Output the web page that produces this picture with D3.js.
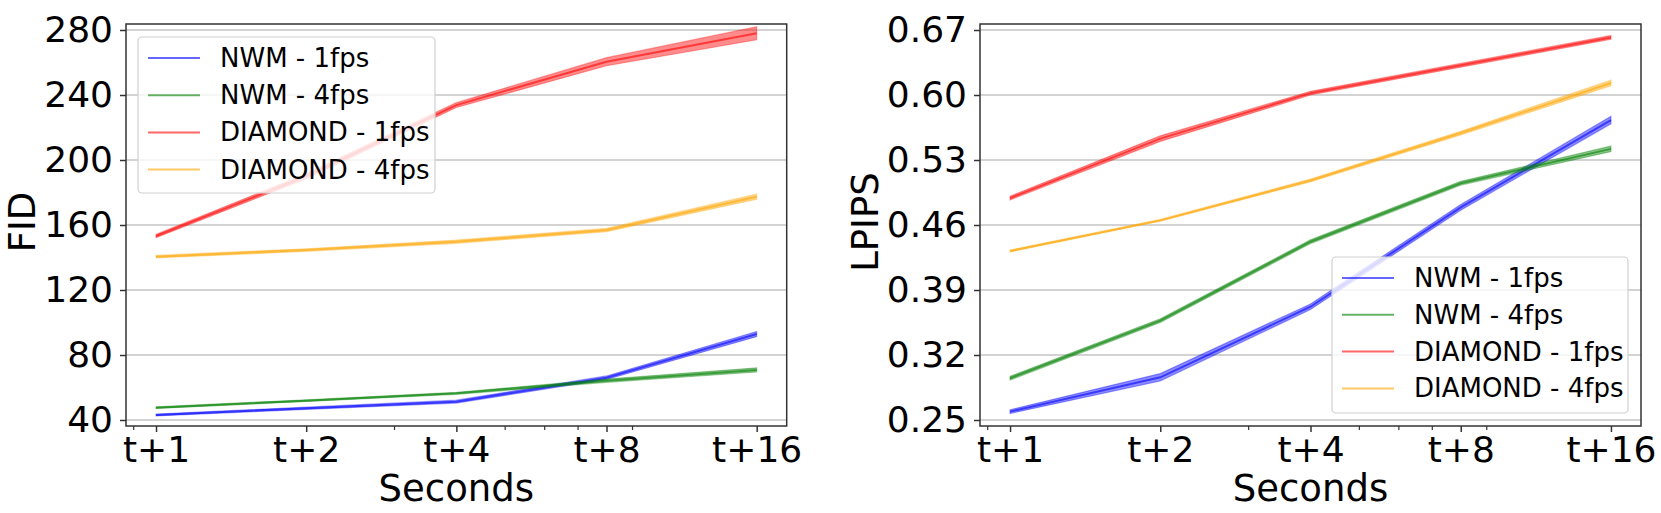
<!DOCTYPE html>
<html>
<head>
<meta charset="utf-8">
<script src="https://cdn.jsdelivr.net/npm/d3@7"></script>
<style>
  html, body { margin: 0; padding: 0; background: #fff; }
  svg { display: block; font-family: "DejaVu Sans", sans-serif; }
</style>
</head>
<body>
<svg id="chart" width="1661" height="513"></svg>
<script>
// ---------- data ----------
const stepLabels = ["t+1", "t+2", "t+4", "t+8", "t+16"];
const stepValues = [1, 2, 4, 8, 16];
const minorTicks = [0.9, 3, 5, 6, 7, 9];
const seriesNames = ["NWM - 1fps", "NWM - 4fps", "DIAMOND - 1fps", "DIAMOND - 4fps"];
const seriesColors = ["blue", "green", "red", "orange"];

// FID (mean and half-band)
const fidNwm1 = [43.1, 47.2, 51.3, 66.0, 92.9];
const fidNwm4 = [47.6, 51.9, 56.4, 64.2, 70.8];
const fidDia1 = [153.2, 190.0, 233.8, 260.5, 278.0];
const fidDia4 = [140.5, 144.6, 149.7, 156.9, 177.4];
const fidNwm1Err = [0.6, 0.7, 0.9, 1.1, 1.6];
const fidNwm4Err = [0.5, 0.5, 0.6, 1.0, 1.3];
const fidDia1Err = [1.0, 1.5, 1.5, 2.5, 4.0];
const fidDia4Err = [0.8, 0.8, 1.0, 1.0, 1.6];
const fidTicks = [40, 80, 120, 160, 200, 240, 280];

// LPIPS
const lpNwm1 = [0.259, 0.296, 0.372, 0.479, 0.573];
const lpNwm4 = [0.295, 0.357, 0.442, 0.505, 0.542];
const lpDia1 = [0.489, 0.553, 0.602, 0.632, 0.662];
const lpDia4 = [0.432, 0.465, 0.508, 0.559, 0.613];
const lpNwm1Err = [0.002, 0.004, 0.003, 0.003, 0.004];
const lpNwm4Err = [0.002, 0.002, 0.002, 0.002, 0.003];
const lpDia1Err = [0.002, 0.003, 0.002, 0.002, 0.002];
const lpDia4Err = [0.001, 0.001, 0.0015, 0.002, 0.003];
const lpTicks = [0.25, 0.32, 0.39, 0.46, 0.53, 0.60, 0.67];

// ---------- drawing ----------
const svg = d3.select("#chart");

function drawPanel(cfg) {
  const { left, right, top, bottom } = cfg.frame;
  const lo = Math.log2(stepValues[0]), hi = Math.log2(stepValues[stepValues.length - 1]);
  const m = 0.05 * (hi - lo);
  const x = d3.scaleLog().base(2).domain([Math.pow(2, lo - m), Math.pow(2, hi + m)]).range([left, right]);
  const t0 = cfg.yTicks[0], t1 = cfg.yTicks[cfg.yTicks.length - 1];
  const pad = (t1 - t0) * 6 / 390;
  const y = d3.scaleLinear().domain([t0 - pad, t1 + pad]).range([bottom, top]);

  const g = svg.append("g");

  // grid
  g.append("g").selectAll("line").data(cfg.yTicks).join("line")
    .attr("x1", left).attr("x2", right)
    .attr("y1", d => y(d)).attr("y2", d => y(d))
    .attr("stroke", "#c4c4c4").attr("stroke-width", 1.5);

  // bands + lines
  cfg.series.forEach((s, i) => {
    const pts = stepValues.map((v, k) => ({ x: v, y: s.mean[k], e: s.err[k] }));
    const area = d3.area().x(d => x(d.x)).y0(d => y(d.y - d.e)).y1(d => y(d.y + d.e));
    const line = d3.line().x(d => x(d.x)).y(d => y(d.y));
    g.append("path").attr("d", area(pts)).attr("fill", seriesColors[i]).attr("fill-opacity", 0.45).attr("stroke", seriesColors[i]).attr("stroke-opacity", 0.35).attr("stroke-width", 1.2);
    g.append("path").attr("d", line(pts)).attr("fill", "none").attr("stroke", seriesColors[i]).attr("stroke-opacity", 0.6).attr("stroke-width", 2);
  });

  // spines
  g.append("rect").attr("x", left).attr("y", top).attr("width", right - left).attr("height", bottom - top)
    .attr("fill", "none").attr("stroke", "#333").attr("stroke-width", 1.5);

  // y axis
  const yAxis = d3.axisLeft(y).tickValues(cfg.yTicks).tickFormat(cfg.yFormat).tickSize(6).tickPadding(7);
  const ya = g.append("g").attr("transform", `translate(${left},0)`).call(yAxis);
  ya.select(".domain").remove();
  ya.selectAll(".tick line").attr("stroke", "#333").attr("stroke-width", 1.5);
  ya.selectAll(".tick text").attr("font-size", 36).attr("fill", "#000").attr("font-family", "DejaVu Sans");

  // x axis major
  const xAxis = d3.axisBottom(x).tickValues(stepValues).tickFormat((d, i) => stepLabels[i]).tickSize(6).tickPadding(4);
  const xa = g.append("g").attr("transform", `translate(0,${bottom})`).call(xAxis);
  xa.select(".domain").remove();
  xa.selectAll(".tick line").attr("stroke", "#333").attr("stroke-width", 1.5);
  xa.selectAll(".tick text").attr("font-size", 36).attr("fill", "#000").attr("font-family", "DejaVu Sans");

  // x axis minor
  const xm = d3.axisBottom(x).tickValues(minorTicks).tickFormat("").tickSize(4);
  const xma = g.append("g").attr("transform", `translate(0,${bottom})`).call(xm);
  xma.select(".domain").remove();
  xma.selectAll(".tick line").attr("stroke", "#333").attr("stroke-width", 1.2);

  // axis labels
  g.append("text").attr("x", (left + right) / 2).attr("y", 501)
    .attr("text-anchor", "middle").attr("font-size", 37).text("Seconds");
  g.append("text").attr("transform", `translate(${cfg.yLabelX},${(top + bottom) / 2 - 3}) rotate(-90)`)
    .attr("text-anchor", "middle").attr("font-size", 37).text(cfg.yLabel);

  // legend
  const L = cfg.legend;
  const lg = g.append("g");
  lg.append("rect").attr("x", L.x).attr("y", L.y).attr("width", L.w).attr("height", L.h)
    .attr("rx", 4).attr("fill", "#fff").attr("fill-opacity", 0.8)
    .attr("stroke", "#d0d0d0").attr("stroke-width", 1.2);
  seriesNames.forEach((name, i) => {
    const cy = L.y + L.row0 + i * L.step;
    lg.append("line").attr("x1", L.x + 10).attr("x2", L.x + 62).attr("y1", cy).attr("y2", cy)
      .attr("stroke", seriesColors[i]).attr("stroke-opacity", 0.6).attr("stroke-width", 2);
    lg.append("text").attr("x", L.x + 82).attr("y", cy + 9).attr("font-size", 26).attr("fill", "#000").text(name);
  });
}

drawPanel({
  frame: { left: 126, right: 786.7, top: 24, bottom: 426 },
  yTicks: fidTicks, yFormat: d3.format("d"), yLabel: "FID", yLabelX: 35,
  series: [
    { mean: fidNwm1, err: fidNwm1Err },
    { mean: fidNwm4, err: fidNwm4Err },
    { mean: fidDia1, err: fidDia1Err },
    { mean: fidDia4, err: fidDia4Err }
  ],
  legend: { x: 138, y: 37, w: 297, h: 156, row0: 21, step: 37.2 }
});

drawPanel({
  frame: { left: 980, right: 1641, top: 24, bottom: 426 },
  yTicks: lpTicks, yFormat: d3.format(".2f"), yLabel: "LPIPS", yLabelX: 878,
  series: [
    { mean: lpNwm1, err: lpNwm1Err },
    { mean: lpNwm4, err: lpNwm4Err },
    { mean: lpDia1, err: lpDia1Err },
    { mean: lpDia4, err: lpDia4Err }
  ],
  legend: { x: 1332, y: 257, w: 296, h: 156, row0: 21, step: 36.8 }
});
</script>
</body>
</html>
